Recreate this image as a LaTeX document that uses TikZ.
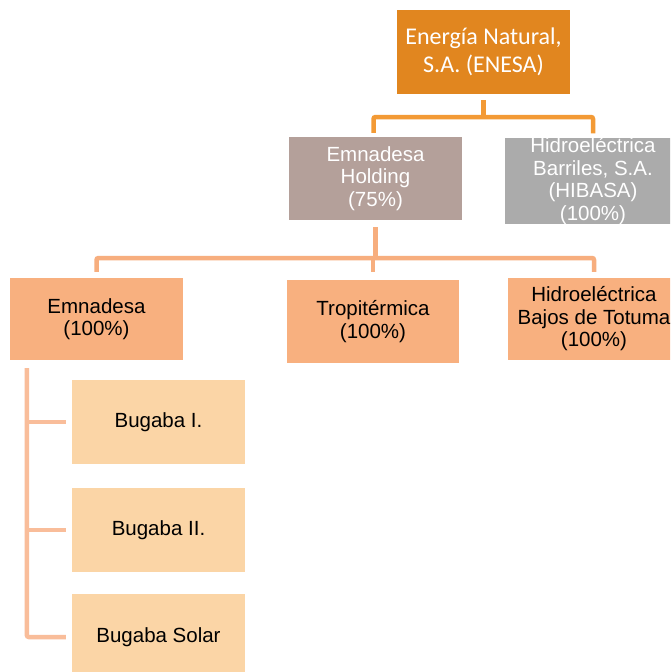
\documentclass[tikz,border=0pt]{standalone}
\usepackage{fontspec}
\setmainfont{Liberation Sans}
\newfontfamily\calib{Carlito}
\definecolor{cTop}{HTML}{E1861F}
\definecolor{cHold}{HTML}{B4A09A}
\definecolor{cGrey}{HTML}{ABABAB}
\definecolor{cMid}{HTML}{F8B07F}
\definecolor{cLow}{HTML}{FBD5A6}
\definecolor{lOne}{HTML}{F39A35}
\definecolor{lTwo}{HTML}{F7AE7E}
\definecolor{lThree}{HTML}{F9BD9A}
\tikzset{
  box/.style={rectangle, inner sep=0pt, align=center, font=\fontsize{20.5}{22.5}\selectfont},
  c1/.style={draw=lOne, line width=4.5pt, rounded corners=2pt},
  c2/.style={draw=lTwo, line width=4.5pt, rounded corners=2pt},
  c3/.style={draw=lThree, line width=4.5pt, rounded corners=2pt},
}
\begin{document}
\begin{tikzpicture}[x=1pt,y=-1pt]
\useasboundingbox (0,0) rectangle (670,672);
\clip (0,0) rectangle (670,672);
\fill[white] (0,0) rectangle (670,672);
% nodes
\node[box, fill=cTop, text=white, minimum width=173pt, minimum height=84pt, font=\calib\fontsize{24}{28}\selectfont] (enesa) at (483.5,52) {Energía Natural,\\S.A. (ENESA)};
\node[box, fill=cHold, text=white, minimum width=173pt, minimum height=83pt] (holding) at (375.5,178.5) {Emnadesa\\Holding\\(75\%)};
\node[box, fill=cGrey, text=white, minimum width=176pt, minimum height=86pt] (hibasa) at (593,181) {Hidroeléctrica\\Barriles, S.A.\\(HIBASA)\\(100\%)};
\node[box, fill=cMid, text=black, minimum width=173pt, minimum height=82pt] (emn) at (96.5,319) {Emnadesa\\(100\%)};
\node[box, fill=cMid, text=black, minimum width=172pt, minimum height=83pt] (trop) at (373,321.5) {Tropitérmica\\(100\%)};
\node[box, fill=cMid, text=black, minimum width=172pt, minimum height=82pt] (bajos) at (594,319) {Hidroeléctrica\\Bajos de Totuma\\(100\%)};
\node[box, fill=cLow, text=black, minimum width=173pt, minimum height=84pt] (b1) at (158.5,422) {Bugaba I.};
\node[box, fill=cLow, text=black, minimum width=173pt, minimum height=84pt] (b2) at (158.5,530) {Bugaba II.};
\node[box, fill=cLow, text=black, minimum width=173pt, minimum height=86pt] (b3) at (158.5,637) {Bugaba Solar};
% level 1 connectors
\coordinate (j1) at (483.5,117);
\draw[c1] ([yshift=-6pt]enesa.south) -- (j1);
\draw[c1] ([yshift=4pt,xshift=-2pt]holding.north) |- (j1) -| ([yshift=4pt]hibasa.north);
% level 2 connectors
\coordinate (j2) at (375.5,258);
\draw[c2] ([yshift=-7pt]holding.south) -- (j2);
\draw[c2] ([yshift=6pt]emn.north) |- (j2) -| ([yshift=6pt]bajos.north);
\draw[c2] ([yshift=8pt]trop.north) -- (trop.north |- j2);
% level 3 connectors
\coordinate (t) at ([xshift=17pt,yshift=-8pt]emn.south west);
\draw[c3] (t) |- ([xshift=-6pt]b3.west);
\draw[c3] (t |- b1.west) -- ([xshift=-6pt]b1.west);
\draw[c3] (t |- b2.west) -- ([xshift=-6pt]b2.west);
\end{tikzpicture}
\end{document}
